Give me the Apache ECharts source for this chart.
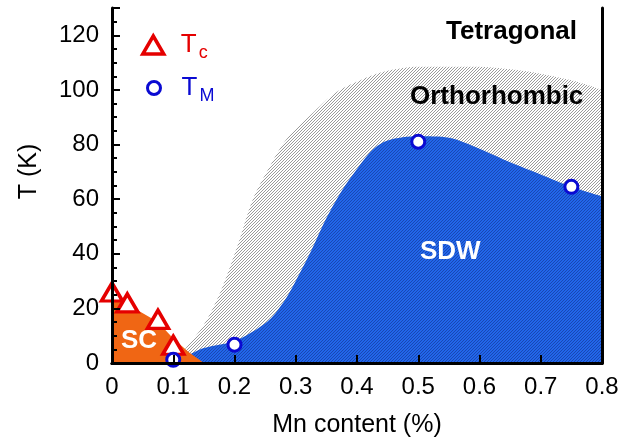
<!DOCTYPE html>
<html>
<head>
<meta charset="utf-8">
<script src="https://cdn.jsdelivr.net/npm/echarts@6/dist/echarts.min.js"></script>
<style>
  html, body { margin: 0; padding: 0; background: #fff; }
  #chart { width: 633px; height: 443px; }
</style>
</head>
<body>
<div id="chart"></div>
<script>
// Tc (red triangles) and TM (blue circles)
const tcX = [0, 0.025, 0.075, 0.1];
const tcY = [26, 22, 16, 6.5];
const tmX = [0.1, 0.2, 0.5, 0.75];
const tmY = [1.2, 6.7, 81, 64.5];

// phase boundaries
const orthoX = [0.1, 0.117, 0.15, 0.177, 0.205, 0.23, 0.26, 0.285, 0.325, 0.365, 0.41, 0.45, 0.5, 0.59, 0.67, 0.75, 0.8];
const orthoY = [0, 4.5, 14, 26, 43, 60, 73, 82, 91, 99, 104, 107, 108.5, 108.5, 107, 103.5, 100];
const sdwX = [0.1, 0.13, 0.15, 0.2, 0.23, 0.26, 0.285, 0.3, 0.325, 0.35, 0.375, 0.4, 0.425, 0.45, 0.5, 0.55, 0.6, 0.65, 0.7, 0.75, 0.8];
const sdwY = [0, 3.5, 5.5, 8, 11.5, 16.5, 24, 30, 41, 53, 63, 71, 78, 81.5, 83, 82.5, 78.5, 73.5, 69, 64.5, 61];
const scX = [0, 0.025, 0.075, 0.1, 0.125, 0.15];
const scY = [25, 21.5, 15, 9, 4, 0];

const yTicks = [0, 20, 40, 60, 80, 100, 120];

const zip = (xs, ys) => xs.map((x, i) => [x, ys[i]]);

// small diagonal hatch tiles
function hatch(bg, fg) {
  const c = document.createElement('canvas');
  c.width = 3; c.height = 3;
  const g = c.getContext('2d');
  g.fillStyle = bg; g.fillRect(0, 0, 3, 3);
  g.fillStyle = fg;
  for (let i = 0; i < 3; i++) g.fillRect(i, 2 - i, 1, 1);
  return c;
}

const font = "'Liberation Sans', Arial, sans-serif";
const red = '#e50000';
const blue = '#0a0ad2';

const myChart = echarts.init(document.getElementById('chart'));

const option = {
  animation: false,
  textStyle: { fontFamily: font },
  grid: { left: 112, right: 31, top: 8, bottom: 78 },
  legend: [
    {
      data: ['Tc'], left: 136, top: 27, itemWidth: 21, itemHeight: 18,
      formatter: () => '{t|T}{s|c}',
      itemStyle: { color: '#fff', borderColor: red, borderWidth: 3.5, opacity: 1 },
      textStyle: {
        padding: [0, 0, 0, 12],
        rich: {
          t: { fontSize: 26, color: red, fontFamily: font },
          s: { fontSize: 18, color: red, fontFamily: font, padding: [16, 0, 0, 2] }
        }
      }
    },
    {
      data: ['TM'], left: 141, top: 70, itemWidth: 13, itemHeight: 13,
      formatter: () => '{t|T}{s|M}',
      itemStyle: { color: '#fff', borderColor: blue, borderWidth: 3, opacity: 1 },
      textStyle: {
        padding: [0, 0, 0, 16],
        rich: {
          t: { fontSize: 26, color: blue, fontFamily: font },
          s: { fontSize: 18, color: blue, fontFamily: font, padding: [16, 0, 0, 2] }
        }
      }
    }
  ],
  xAxis: [
    {
      type: 'value', min: 0, max: 0.8, interval: 0.1, z: 10,
      name: 'Mn content (%)', nameLocation: 'middle', nameGap: 50,
      nameTextStyle: { fontSize: 25, color: '#000', fontFamily: font },
      axisLine: { lineStyle: { color: '#000', width: 3 } },
      axisTick: { inside: true, length: 8, lineStyle: { color: '#000', width: 2 } },
      axisLabel: { fontSize: 24, color: '#000', margin: 12, fontFamily: font },
      splitLine: { show: false }
    },
    {
      type: 'value', min: 0, max: 0.8, position: 'top', z: 10,
      axisLine: { show: true, lineStyle: { color: '#000', width: 3 } },
      axisTick: { show: false }, axisLabel: { show: false }, splitLine: { show: false }
    }
  ],
  yAxis: [
    {
      type: 'value', min: 0, max: 130, interval: 20, position: 'left', z: 10,
      name: 'T (K)', nameLocation: 'middle', nameGap: 70,
      nameTextStyle: { fontSize: 25, color: '#000', fontFamily: font, padding: [0, 0, 0, 28] },
      axisLine: { show: true, lineStyle: { color: '#000', width: 3 } },
      axisTick: { inside: true, length: 8, lineStyle: { color: '#000', width: 2 } },
      axisLabel: {
        fontSize: 24, color: '#000', margin: 13, fontFamily: font,
        formatter: v => (yTicks.includes(v) ? String(v) : '')
      },
      splitLine: { show: false }
    },
    {
      type: 'value', min: 0, max: 130, interval: 5, position: 'left', z: 10,
      axisLine: { show: false },
      axisTick: { inside: true, length: 5, lineStyle: { color: '#000', width: 2 } },
      axisLabel: { show: false }, splitLine: { show: false }
    },
    {
      type: 'value', min: 0, max: 130, position: 'right', z: 10,
      axisLine: { show: true, lineStyle: { color: '#000', width: 3 } },
      axisTick: { show: false }, axisLabel: { show: false }, splitLine: { show: false }
    }
  ],
  series: [
    {
      name: 'Orthorhombic', type: 'line', data: zip(orthoX, orthoY),
      smooth: 0.3, showSymbol: false, silent: true,
      lineStyle: { width: 0 },
      areaStyle: { color: { image: hatch('#ffffff', '#9a9a9a'), repeat: 'repeat' }, opacity: 1 }
    },
    {
      name: 'SDW', type: 'line', data: zip(sdwX, sdwY),
      smooth: 0.3, showSymbol: false, silent: true,
      lineStyle: { width: 0 },
      areaStyle: { color: { image: hatch('#2266ea', '#1848b4'), repeat: 'repeat' }, opacity: 1 }
    },
    {
      name: 'SC', type: 'line', data: zip(scX, scY),
      showSymbol: false, silent: true,
      lineStyle: { width: 0 },
      areaStyle: { color: '#f06614', opacity: 1 }
    },
    {
      name: 'Tc', type: 'scatter', data: zip(tcX, tcY), z: 5,
      symbol: 'triangle', symbolSize: [21, 18],
      itemStyle: { color: '#fff', borderColor: red, borderWidth: 3.5, opacity: 1 }
    },
    {
      name: 'TM', type: 'scatter', data: zip(tmX, tmY), z: 5,
      symbol: 'circle', symbolSize: 13,
      itemStyle: { color: '#fff', borderColor: blue, borderWidth: 3, opacity: 1 }
    }
  ],
  graphic: [
    { type: 'text', left: 446, top: 19, z: 20,
      style: { text: 'Tetragonal', font: "bold 26px " + font, fill: '#000' } },
    { type: 'text', left: 410, top: 84, z: 20,
      style: { text: 'Orthorhombic', font: "bold 26px " + font, fill: '#000' } },
    { type: 'text', left: 420, top: 239, z: 20,
      style: { text: 'SDW', font: "bold 26px " + font, fill: '#fff' } },
    { type: 'text', left: 121, top: 328, z: 20,
      style: { text: 'SC', font: "bold 26px " + font, fill: '#fff' } }
  ]
};

myChart.setOption(option);
</script>
</body>
</html>
